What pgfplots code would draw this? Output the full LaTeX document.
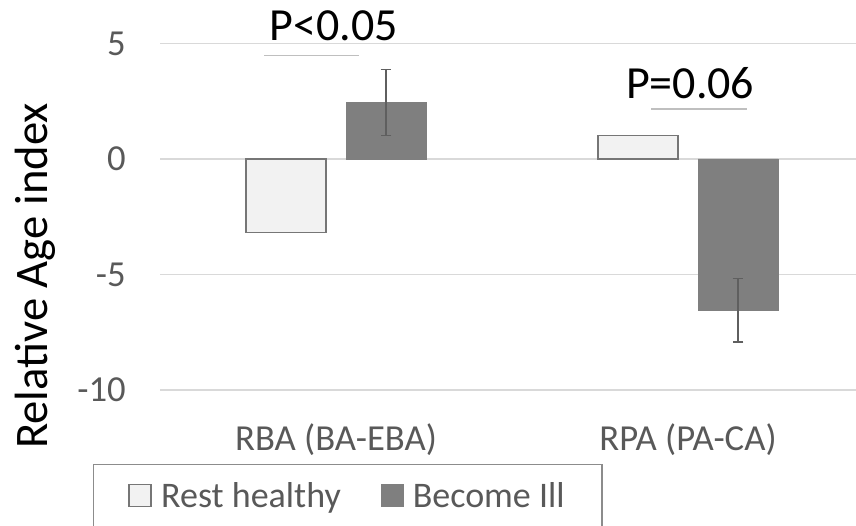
\documentclass[border=0pt]{standalone}
\usepackage{pgfplots}
\pgfplotsset{compat=1.18}
\usepackage{fontspec}
\setmainfont{Carlito}
\definecolor{gridc}{HTML}{D9D9D9}
\definecolor{txt}{HTML}{595959}
\definecolor{lightbar}{HTML}{F2F2F2}
\definecolor{darkbar}{HTML}{7F7F7F}
\definecolor{edge}{HTML}{767676}
\definecolor{errc}{HTML}{5F5F5F}
\definecolor{sigline}{HTML}{BFBFBF}
\definecolor{legc}{HTML}{8C8C8C}
\begin{document}
\begin{tikzpicture}
\useasboundingbox (0pt,0pt) rectangle (642pt,-393.75pt);
\clip (0pt,0pt) rectangle (642pt,-393.75pt);
\begin{axis}[
  at={(120pt,-292.5pt)}, anchor=south west,
  scale only axis, width=528pt, height=259.9pt,
  xmin=-0.5, xmax=1.5, ymin=-10, ymax=5,
  clip=false,
  axis line style={draw=none},
  ybar=15pt, bar width=60pt,
  xtick={0,1}, xticklabels={RBA (BA-EBA), RPA (PA-CA)},
  ytick={-10,-5,0,5}, yticklabels={-10,-5,0,5},
  major tick length=0pt,
  ymajorgrids, grid style={gridc, line width=1.1pt},
  yticklabel style={anchor=east, inner sep=0pt, xshift=-25.5pt, font=\fontsize{27.5}{33}\selectfont, text=txt},
  xticklabel style={anchor=base, inner sep=0pt, yshift=-45pt, font=\fontsize{27.5}{33}\selectfont, text=txt},
  ylabel={Relative Age index},
  every axis y label/.style={at={(axis description cs:-0.1605,0.329)}, rotate=90, anchor=base, font=\fontsize{35}{42}\selectfont, text=black},
  legend image code/.code={\draw[#1] (0pt,-8.25pt) rectangle (16.5pt,8.25pt);},
  legend style={at={(axis description cs:-0.0952,-0.2136)}, anchor=north west, legend columns=2,
    draw=legc, line width=1.1pt, font=\fontsize{27}{32}\selectfont, text=txt,
    inner xsep=26pt, inner ysep=11pt,
    /tikz/every odd column/.append style={column sep=5pt},
    /tikz/every even column/.append style={column sep=28pt}},
]
\addplot[fill=lightbar, draw=edge, line width=1.1pt] coordinates {(0,-3.19) (1,1.02)};
\addplot[fill=darkbar, draw=darkbar, line width=0.5pt,
  error bars/.cd, y dir=both, y explicit,
  error bar style={errc, line width=1.1pt},
  error mark options={rotate=90, mark size=4.1pt, line width=1.1pt, errc}]
  coordinates {(0,2.45) +- (0,1.43) (1,-6.55) +- (0,1.37)};
\legend{Rest healthy, Become Ill}
\node[font=\fontsize{34.5}{41}\selectfont, anchor=base, text=black] at (axis cs:-0.006,5.11) {P<0.05};
\draw[sigline, line width=0.8pt] (axis cs:-0.2045,4.46) -- (axis cs:0.065,4.46);
\node[font=\fontsize{34.5}{41}\selectfont, anchor=base, text=black] at (axis cs:1.006,2.6) {P=0.06};
\draw[sigline, line width=0.8pt] (axis cs:0.895,2.165) -- (axis cs:1.168,2.165);
\end{axis}
\end{tikzpicture}
\end{document}
